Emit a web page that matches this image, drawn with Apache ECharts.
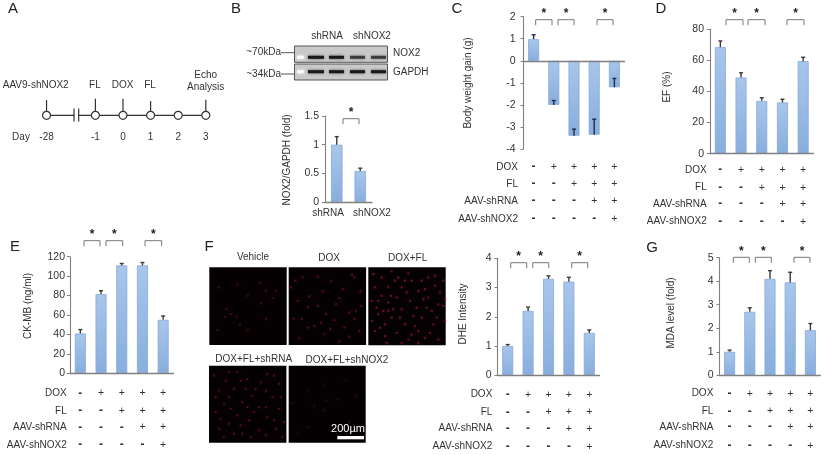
<!DOCTYPE html>
<html><head><meta charset="utf-8">
<style>html,body{margin:0;padding:0;background:#fff}#c{width:824px;height:455px}</style>
<script src="https://cdn.jsdelivr.net/npm/echarts@6/dist/echarts.min.js"></script>
</head><body><div id="c"></div>
<script>
// ---------- data ----------
const rowLabels = ['DOX','FL','AAV-shRNA','AAV-shNOX2'];
const rowDOX  = ['-','+','+','+','+'];
const rowFL   = ['-','-','+','+','+'];
const rowRNA  = ['-','-','-','+','+'];
const rowNOX2 = ['-','-','-','-','+'];
const groups = ['G1','G2','G3','G4','G5'];

const bCats = ['shRNA','shNOX2'];
const bVals = [1.0,0.54];
const bErr  = [1.14,0.59];

const cVals = [0.98,-2.0,-3.4,-3.35,-1.2];
const cErr  = [1.18,-1.8,-3.1,-2.65,-0.8];
const dVals = [68.5,49,34,33,59.5];
const dErr  = [72.5,52,36,35,62];
const eVals = [41,81.5,111,111,55];
const eErr  = [45,85,113,114,59];
const fVals = [1.0,2.2,3.3,3.2,1.45];
const fErr  = [1.05,2.33,3.4,3.35,1.55];
const gVals = [1.0,2.7,4.1,3.95,1.92];
const gErr  = [1.07,2.87,4.45,4.38,2.2];

const daySlots = [-2.77,-1,0,1,2,3];
const dayLabels = ['-28','-1','0','1','2','3'];
const dayEvents = ['AAV9-shNOX2','FL','DOX','FL','',''];

const noxBands = [1,1,0.72,0.72];
const gapdhBands = [1,1,1,1];

const spotsVehicle = [[28,60],[85,52],[152,47],[170,70],[200,72],[190,92],[155,108],[115,85],[52,125],[65,140],[82,147],[47,148],[92,172],[115,187],[25,187],[170,155]];
const spotsDOX = [[42,30],[87,28],[127,42],[162,65],[197,30],[215,72],[102,72],[27,100],[62,87],[152,92],[142,110],[182,135],[197,155],[137,158],[15,153],[39,155],[77,175],[57,180],[97,165],[107,200],[32,212],[152,222],[182,208],[7,60],[217,115],[202,130],[87,115],[57,120],[112,140],[167,180],[212,190],[190,22],[20,40],[125,185]];
const spotsFL = [[70,12],[120,18],[160,40],[40,30],[60,58],[100,60],[20,60],[150,70],[200,55],[215,75],[180,90],[60,105],[25,120],[100,125],[135,145],[160,150],[210,110],[225,115],[190,130],[30,140],[70,150],[110,170],[50,170],[150,190],[170,210],[210,215],[85,195],[20,190],[125,100],[230,160],[195,170],[40,85],[85,90],[10,100],[130,40],[200,25],[90,30],[15,20],[50,205],[120,215],[225,40],[60,130],[175,120],[235,200],[140,175],[80,40],[170,65],[35,180],[115,75],[185,195],[145,120],[75,125],[12,160],[95,150],[165,95],[205,150],[55,225],[100,225],[180,30],[30,100],[230,95],[130,200],[68,85],[110,40],[150,225],[45,130]];
const spotsRNA = [[50,45],[115,40],[155,50],[30,75],[75,70],[130,90],[100,110],[45,115],[20,140],[85,150],[150,125],[190,95],[210,130],[175,155],[120,165],[60,175],[30,190],[150,195],[100,205],[200,190],[45,215],[220,215],[15,30],[175,25],[210,55],[85,20],[65,130],[125,215],[170,210],[20,95],[140,70],[95,180],[60,95],[110,70],[170,75],[215,95],[135,140],[195,165],[75,205],[35,160],[195,30],[115,125],[60,20],[225,170],[170,125],[95,45]];
const spotsNOX2 = [[27,205],[57,185],[107,60],[172,45],[12,112],[77,122],[112,105],[147,100],[202,92],[107,135],[57,75],[182,170]];

// ---------- helpers ----------
const TXT='#333';
const FAM='"Liberation Sans", Arial, sans-serif';
const grid=[],xAxis=[],yAxis=[],series=[],graphic=[];
function text(x,y,t,o){o=o||{};graphic.push({type:'text',x,y,rotation:o.rot||0,z:100,silent:true,
  style:{text:t,align:o.align||'center',verticalAlign:'middle',fill:o.fill||TXT,fontSize:o.size||10,fontWeight:o.weight||'normal',fontFamily:FAM}});}
function line(x1,y1,x2,y2,c,w){graphic.push({type:'line',z:100,silent:true,shape:{x1,y1,x2,y2},style:{stroke:c||'#555',lineWidth:w||1}});}
function poly(pts,c,w){graphic.push({type:'polyline',z:100,silent:true,shape:{points:pts},style:{stroke:c||'#777',lineWidth:w||1,fill:null}});}
const barFill={type:'linear',x:0,y:0,x2:0,y2:1,colorStops:[{offset:0,color:'#a8c6eb'},{offset:1,color:'#88aede'}]};

function barPanel(p){
  const idx=grid.length;
  grid.push({left:p.left,top:p.top,width:p.width,height:p.height,containLabel:false});
  xAxis.push({gridIndex:idx,type:'category',data:p.cats,axisTick:{show:false},axisLabel:{show:false},
    axisLine:{onZero:true,lineStyle:{color:'#808080',width:1.3}},z:5});
  yAxis.push({gridIndex:idx,type:'value',min:p.min,max:p.max,interval:p.interval,splitLine:{show:false},
    axisLine:{show:true,onZero:false,lineStyle:{color:'#808080',width:1.1}},axisTick:{show:true,length:3,lineStyle:{color:'#808080'}},
    axisLabel:{color:TXT,fontSize:10.5,margin:p.margin||5,fontFamily:'Liberation Sans'}});
  series.push({type:'bar',xAxisIndex:idx,yAxisIndex:idx,data:p.vals,barWidth:p.barW||11,
    itemStyle:{color:barFill,borderColor:'#88a9d6',borderWidth:0.8},animation:false,z:2});
  series.push({type:'custom',xAxisIndex:idx,yAxisIndex:idx,animation:false,z:3,clip:false,
    data:p.vals.map((v,i)=>[i,v,p.errs[i]]),encode:{x:0,y:[1,2]},
    renderItem(params,api){
      const a=api.coord([api.value(0),api.value(1)]),b=api.coord([api.value(0),api.value(2)]);
      const st={stroke:p.errColor||'#3a3a3a',lineWidth:1.4,fill:null};
      return {type:'group',children:[
        {type:'line',shape:{x1:a[0],y1:a[1],x2:b[0],y2:b[1]},style:st},
        {type:'line',shape:{x1:b[0]-2,y1:b[1],x2:b[0]+2,y2:b[1]},style:st}]};
    }});
  if(p.name) text(p.name[0],p.name[1],p.name[2],{rot:Math.PI/2,size:10});
  if(p.rows){
    const step=p.width/p.cats.length;
    [rowDOX,rowFL,rowRNA,rowNOX2].forEach((r,ri)=>{
      text(p.rowRight,p.rows[ri],rowLabels[ri],{align:'right',size:10});
      r.forEach((s,ci)=>{text(p.left+step*(ci+.5),p.rows[ri],s,{size:s==='-'?12:10.5,weight:s==='-'?'bold':'normal'});});
    });
  }
  (p.brackets||[]).forEach(b=>{
    poly([[b[0],p.brY+5.5],[b[0],p.brY],[b[1],p.brY],[b[1],p.brY+5.5]]);
    text((b[0]+b[1])/2,p.brY-6,'*',{size:12,weight:'bold',fill:'#222'});
  });
}
function photo(x,y,w,h,pts,alpha){
  const idx=grid.length;
  grid.push({left:x,top:y,width:w,height:h,show:true,backgroundColor:'#050103',borderWidth:0});
  xAxis.push({gridIndex:idx,type:'value',min:0,max:232,show:false});
  yAxis.push({gridIndex:idx,type:'value',min:0,max:232,inverse:true,show:false});
  series.push({type:'scatter',xAxisIndex:idx,yAxisIndex:idx,data:pts,symbolSize:2.3,animation:false,
    itemStyle:{color:`rgba(125,22,34,${alpha})`,shadowBlur:2,shadowColor:`rgba(125,22,34,${alpha*0.6})`}});
}

// ---------- panel letters ----------
[['A',13,9],['B',236,9],['C',457,9],['D',661,9],['E',15,247],['F',209,247],['G',652,248]].forEach(a=>text(a[1],a[2],a[0],{size:15,fill:'#222'}));

// ---------- A: timeline ----------
{
  const idx=grid.length, ux=27.6, ox=123;
  const X=s=>ox+ux*s;
  grid.push({left:X(-3),top:100.3,width:ux*7,height:30});
  xAxis.push({gridIndex:idx,type:'value',min:-3,max:4,show:false});
  yAxis.push({gridIndex:idx,type:'value',min:0,max:1,show:false});
  series.push({type:'line',xAxisIndex:idx,yAxisIndex:idx,animation:false,data:daySlots.map(s=>[s,.5]),symbol:'circle',symbolSize:8,showSymbol:true,
    lineStyle:{color:'#333',width:1.2},itemStyle:{color:'#fff',borderColor:'#333',borderWidth:1.2},z:5});
  graphic.push({type:'rect',z:100,silent:true,shape:{x:74.5,y:113,width:3.8,height:5},style:{fill:'#fff'}});
  line(74,108.5,74,121.5,'#333',1.2); line(78.7,108.5,78.7,121.5,'#333',1.2);
  const tops=[100,98.7,98.7,101,null,99.7];
  daySlots.forEach((s,i)=>{ if(tops[i]!=null) line(X(s),tops[i],X(s),111.2,'#333',1.2);
    text(X(s),137.7,dayLabels[i]);
    if(dayEvents[i] && i>0) text(X(s)-0.5,85,dayEvents[i]);
  });
  text(35.7,85,dayEvents[0],{size:10});
  text(21,137.7,'Day');
  text(205.7,75.3,'Echo'); text(205.7,87.3,'Analysis');
}

// ---------- B: blots ----------
{
  const boxes=[[46,16.3,noxBands,57.3],[64,16,gapdhBands,71.7]];
  const lanes=[[308,16],[329,15],[350,15],[371,15]];
  boxes.forEach(b=>{
    graphic.push({type:'rect',z:90,silent:true,shape:{x:294.5,y:b[0],width:93,height:b[1]},
      style:{fill:'#c9c9c9',stroke:'#555',lineWidth:1}});
    graphic.push({type:'rect',z:91,silent:true,shape:{x:297,y:b[3]-1.5,width:7,height:3,r:1},
      style:{fill:'rgba(255,255,255,.9)',shadowBlur:3,shadowColor:'#fff'}});
    lanes.forEach((l,i)=>graphic.push({type:'rect',z:91,silent:true,shape:{x:l[0],y:b[3]-1.5,width:l[1],height:3},
      style:{fill:`rgba(25,25,25,${b[2][i]})`,shadowBlur:3,shadowColor:'rgba(30,30,30,.7)'}}));
  });
  text(327,36.7,'shRNA'); text(372,36.7,'shNOX2');
  text(281,52.7,'~70kDa',{align:'right'}); line(281,52.7,294,52.7,'#555',1);
  text(281,74,'~34kDa',{align:'right'}); line(281,74,294,74,'#555',1);
  text(393,53,'NOX2',{align:'left'}); text(393,72.7,'GAPDH',{align:'left'});
  text(328,213,bCats[0]); text(372,213,bCats[1]);
}
barPanel({left:325,top:116,width:47,height:86,cats:bCats,vals:bVals,errs:bErr,min:0,max:1.5,interval:.5,margin:6,barW:11.5,
  name:[287,160,'NOX2/GAPDH (fold)'],brackets:[[343,359]],brY:118.7});

// ---------- C..G ----------
barPanel({left:523.5,top:16.7,width:101,height:132.3,cats:groups,vals:cVals,errs:cErr,min:-4,max:2,interval:1,margin:8,errColor:'#1f2d44',
  name:[468,83,'Body weight gain (g)'],rows:[167,184,201,219],rowRight:518,brackets:[[535.7,552],[558,574],[597,613]],brY:19.7});
barPanel({left:710,top:29.3,width:103.5,height:124.4,cats:groups,vals:dVals,errs:dErr,min:0,max:80,interval:20,margin:6,
  name:[667,87,'EF (%)'],rows:[170,187.7,204,221.7],rowRight:706.7,brackets:[[726,743],[748,765],[787,804]],brY:19.7});
barPanel({left:70,top:256.7,width:103.5,height:116.6,cats:groups,vals:eVals,errs:eErr,min:0,max:120,interval:20,margin:5,
  name:[28,306,'CK-MB (ng/ml)'],rows:[393.3,411,427.3,445],rowRight:66.7,brackets:[[84,100],[106,122.7],[145,161.7]],brY:240.7});
barPanel({left:497.5,top:258.3,width:102,height:117,cats:groups,vals:fVals,errs:fErr,min:0,max:4,interval:1,margin:6,
  name:[463,314,'DHE Intensity'],rows:[394.7,412.3,428.7,446.7],rowRight:492.3,brackets:[[510.7,526.7],[532.7,548.7],[571.7,587.7]],brY:262.7});
barPanel({left:719.5,top:257.7,width:101,height:117.6,cats:groups,vals:gVals,errs:gErr,min:0,max:5,interval:1,margin:6,
  name:[671,313,'MDA level (fold)'],rows:[393.7,411.3,427,445.7],rowRight:713.3,brackets:[[733.3,749.3],[755.3,771.3],[794,810]],brY:257.3});

// ---------- F: photos ----------
photo(209.3,267.3,77.4,77.7,spotsVehicle,0.55);
photo(288.7,267.3,77.4,77.7,spotsDOX,0.75);
photo(368.3,267.3,77.4,78,spotsFL,0.95);
photo(209,365.7,77.4,77,spotsRNA,0.7);
photo(288.7,365.7,77,77,spotsNOX2,0.4);
text(253,257,'Vehicle'); text(329,258,'DOX'); text(407.7,258,'DOX+FL');
text(253.7,359.3,'DOX+FL+shRNA'); text(347,360,'DOX+FL+shNOX2');
text(348,429,'200µm',{fill:'#fff',size:11});
graphic.push({type:'rect',z:100,silent:true,shape:{x:337.3,y:436,width:26.7,height:3.3},style:{fill:'#fff'}});

const chart=echarts.init(document.getElementById('c'),null,{renderer:'canvas'});
chart.setOption({animation:false,backgroundColor:'#fff',grid,xAxis,yAxis,series,graphic:{elements:graphic}});
</script></body></html>
